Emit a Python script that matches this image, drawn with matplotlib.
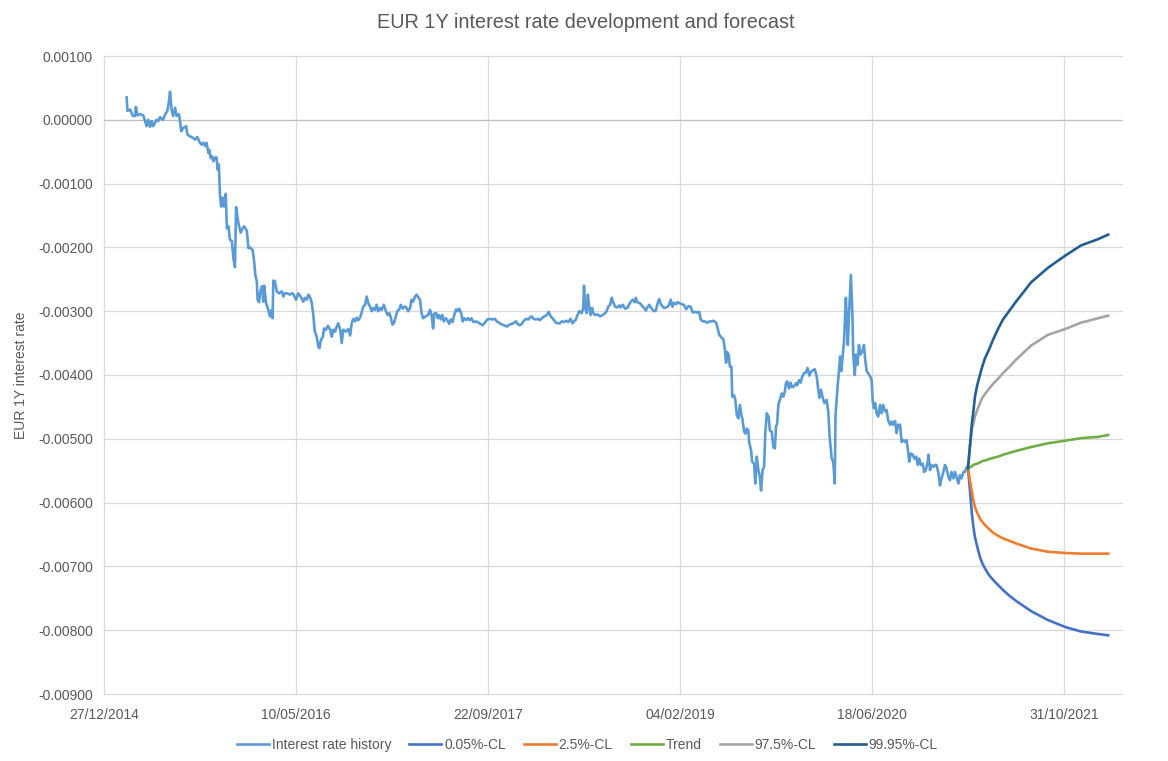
import matplotlib
matplotlib.use("Agg")
import matplotlib.pyplot as plt
import matplotlib.dates as mdates
from matplotlib.ticker import FuncFormatter
import pandas as pd

plt.rcParams['font.family'] = ['Liberation Sans', 'DejaVu Sans']
plt.rcParams['axes.unicode_minus'] = False

# history: days after 27/12/2014, rate in units of 0.001
hist_day = [59, 61, 68, 75, 81, 83, 87, 94, 102, 107, 111, 115, 120, 124, 128, 137, 141, 146, 153, 159,
            165, 168, 172, 176, 180, 185, 189, 195, 198, 201, 206, 214, 217, 224, 231, 237, 243, 248, 254, 259,
            263, 267, 272, 274, 278, 281, 285, 289, 293, 296, 299, 302, 305, 309, 312, 317, 320, 324, 328, 333,
            337, 341, 344, 350, 356, 361, 365, 372, 376, 380, 387, 391, 394, 398, 400, 404, 406, 411, 415, 417,
            422, 428, 432, 437, 439, 441, 445, 450, 456, 463, 467, 471, 477, 484, 489, 493, 500, 506, 512, 519,
            523, 528, 532, 536, 541, 545, 549, 554, 558, 561, 565, 570, 573, 578, 583, 589, 593, 597, 602, 606,
            610, 615, 619, 623, 630, 636, 641, 645, 649, 654, 658, 662, 667, 671, 675, 680, 684, 688, 693, 697,
            701, 706, 710, 714, 719, 723, 729, 734, 739, 743, 747, 751, 755, 760, 764, 769, 773, 778, 782, 786,
            792, 797, 801, 805, 810, 814, 818, 823, 827, 831, 838, 844, 849, 853, 857, 860, 865, 869, 873, 877,
            881, 885, 890, 894, 899, 903, 908, 912, 917, 921, 925, 930, 934, 938, 944, 948, 953, 957, 962, 969,
            975, 981, 986, 992, 998, 1005, 1012, 1018, 1023, 1029, 1036, 1042, 1049, 1056, 1062, 1068, 1073, 1077, 1083, 1088,
            1092, 1099, 1105, 1109, 1114, 1118, 1125, 1131, 1135, 1142, 1147, 1153, 1158, 1163, 1168, 1174, 1180, 1187, 1192, 1198,
            1203, 1209, 1215, 1220, 1224, 1228, 1233, 1238, 1244, 1248, 1250, 1253, 1257, 1260, 1264, 1267, 1271, 1274, 1279, 1285,
            1292, 1299, 1305, 1309, 1313, 1318, 1322, 1326, 1331, 1337, 1342, 1345, 1351, 1357, 1363, 1368, 1372, 1377, 1382, 1385,
            1389, 1394, 1398, 1403, 1407, 1411, 1416, 1420, 1424, 1429, 1433, 1437, 1442, 1446, 1450, 1455, 1459, 1463, 1468, 1472,
            1476, 1480, 1484, 1490, 1493, 1498, 1504, 1510, 1516, 1522, 1528, 1533, 1539, 1545, 1550, 1554, 1559, 1565, 1571, 1576,
            1582, 1587, 1594, 1597, 1602, 1609, 1613, 1617, 1620, 1623, 1627, 1630, 1634, 1636, 1641, 1644, 1648, 1652, 1656, 1660,
            1663, 1667, 1671, 1674, 1678, 1680, 1685, 1688, 1693, 1696, 1700, 1704, 1708, 1711, 1715, 1719, 1722, 1726, 1731, 1734,
            1739, 1743, 1747, 1750, 1753, 1756, 1760, 1765, 1769, 1773, 1776, 1779, 1784, 1788, 1792, 1797, 1802, 1805, 1810, 1814,
            1818, 1823, 1828, 1832, 1837, 1841, 1845, 1851, 1856, 1860, 1863, 1867, 1871, 1876, 1882, 1886, 1890, 1895, 1899, 1903,
            1905, 1910, 1913, 1917, 1920, 1924, 1927, 1932, 1934, 1937, 1940, 1945, 1949, 1951, 1955, 1958, 1962, 1966, 1970, 1976,
            1979, 1982, 1986, 1990, 1995, 1999, 2002, 2005, 2008, 2012, 2016, 2021, 2025, 2029, 2034, 2038, 2042, 2047, 2051, 2055,
            2060, 2064, 2068, 2073, 2077, 2081, 2086, 2090, 2094, 2097, 2101, 2106, 2110, 2115, 2119, 2123, 2127, 2132, 2136, 2140,
            2145, 2147, 2151, 2155, 2160, 2164, 2168, 2173, 2177, 2181, 2186, 2190, 2194, 2199, 2203, 2207, 2212, 2216, 2220, 2225,
            2229, 2233, 2238, 2242, 2247, 2250]
hist_rate = [0.35, 0.14, 0.16, 0.06, 0.06, 0.20, 0.07, 0.09, 0.07, -0.02, -0.10, 0.00, -0.11, -0.02, -0.10, 0.00, -0.02, 0.04, 0.00, 0.08,
             0.14, 0.24, 0.44, 0.16, 0.06, 0.19, 0.06, 0.09, -0.02, -0.18, -0.13, -0.10, -0.23, -0.26, -0.28, -0.31, -0.27, -0.34, -0.39, -0.36,
             -0.41, -0.36, -0.52, -0.47, -0.60, -0.57, -0.65, -0.59, -0.59, -0.78, -0.70, -1.17, -1.36, -1.22, -1.36, -1.16, -1.70, -1.67, -1.88, -1.90,
             -2.17, -2.31, -1.37, -1.62, -1.77, -1.70, -1.67, -1.74, -2.01, -2.00, -2.04, -2.22, -2.43, -2.53, -2.82, -2.86, -2.72, -2.61, -2.85, -2.60,
             -2.87, -2.98, -3.08, -2.98, -3.11, -2.52, -2.53, -2.69, -2.72, -2.69, -2.77, -2.72, -2.72, -2.74, -2.72, -2.73, -2.82, -2.72, -2.77, -2.85,
             -2.79, -2.82, -2.74, -2.77, -2.87, -3.06, -3.32, -3.40, -3.55, -3.58, -3.45, -3.40, -3.27, -3.29, -3.23, -3.29, -3.40, -3.29, -3.32, -3.24,
             -3.19, -3.29, -3.50, -3.29, -3.32, -3.28, -3.38, -3.19, -3.12, -3.16, -3.10, -3.14, -3.10, -3.02, -2.93, -2.90, -2.77, -2.87, -2.93, -3.00,
             -2.95, -2.98, -2.90, -3.00, -2.95, -2.98, -2.90, -3.00, -3.06, -3.03, -3.10, -3.21, -3.19, -3.08, -3.00, -2.97, -2.90, -2.96, -2.93, -2.93,
             -3.00, -2.95, -2.82, -2.85, -2.77, -2.74, -2.78, -2.82, -3.03, -3.11, -3.08, -3.06, -2.98, -3.06, -3.27, -3.04, -3.03, -3.11, -3.06, -3.13,
             -3.06, -3.16, -3.11, -3.14, -3.20, -3.13, -3.17, -3.06, -2.97, -3.00, -2.96, -3.03, -3.16, -3.11, -3.14, -3.11, -3.14, -3.11, -3.17, -3.16,
             -3.18, -3.20, -3.22, -3.18, -3.13, -3.12, -3.13, -3.12, -3.16, -3.18, -3.21, -3.22, -3.24, -3.21, -3.20, -3.18, -3.16, -3.20, -3.22, -3.20,
             -3.16, -3.12, -3.13, -3.10, -3.08, -3.12, -3.13, -3.12, -3.14, -3.10, -3.08, -3.06, -3.01, -3.08, -3.11, -3.16, -3.19, -3.19, -3.16, -3.17,
             -3.15, -3.17, -3.12, -3.19, -3.16, -3.14, -3.06, -3.00, -3.03, -2.95, -2.60, -2.95, -3.03, -2.74, -2.95, -3.06, -2.95, -3.03, -3.06, -3.05,
             -3.08, -3.06, -3.03, -3.00, -2.93, -2.90, -2.79, -2.86, -2.93, -2.94, -2.91, -2.94, -2.90, -2.96, -2.95, -2.89, -2.85, -2.82, -2.86, -2.79,
             -2.86, -2.87, -2.89, -2.93, -2.95, -2.99, -2.93, -2.90, -2.94, -2.98, -3.00, -2.99, -2.87, -2.81, -2.89, -2.93, -2.95, -2.94, -2.93, -2.89,
             -2.82, -2.93, -2.87, -2.89, -2.86, -2.87, -2.89, -2.90, -2.97, -2.92, -2.93, -3.02, -3.01, -3.02, -3.01, -3.13, -3.16, -3.16, -3.18, -3.16,
             -3.16, -3.15, -3.18, -3.24, -3.37, -3.42, -3.44, -3.61, -3.81, -3.64, -3.69, -3.87, -3.87, -4.34, -4.32, -4.39, -4.63, -4.68, -4.47, -4.63,
             -4.71, -4.89, -4.92, -4.84, -4.87, -5.05, -5.18, -5.36, -5.39, -5.70, -5.28, -5.49, -5.60, -5.81, -5.49, -5.44, -4.92, -4.60, -4.66, -4.87,
             -4.89, -5.13, -5.15, -4.81, -4.76, -4.47, -4.39, -4.29, -4.34, -4.26, -4.13, -4.10, -4.21, -4.12, -4.19, -4.18, -4.13, -4.16, -4.08, -4.12,
             -4.03, -3.97, -3.96, -3.89, -4.01, -3.95, -3.93, -3.91, -4.02, -4.23, -4.36, -4.23, -4.34, -4.44, -4.39, -4.57, -4.99, -5.31, -5.36, -5.70,
             -4.63, -4.21, -4.00, -3.71, -3.94, -3.68, -3.48, -2.79, -3.11, -3.53, -3.06, -2.43, -3.06, -3.66, -4.00, -3.68, -3.84, -3.53, -3.68, -3.61,
             -3.53, -3.74, -3.94, -3.97, -4.02, -4.08, -4.42, -4.52, -4.44, -4.60, -4.65, -4.47, -4.60, -4.47, -4.57, -4.55, -4.71, -4.78, -4.73, -4.78,
             -4.72, -4.91, -4.78, -4.78, -5.05, -5.02, -5.05, -5.02, -5.20, -5.36, -5.23, -5.25, -5.31, -5.28, -5.41, -5.31, -5.41, -5.39, -5.52, -5.49,
             -5.36, -5.25, -5.49, -5.41, -5.44, -5.41, -5.41, -5.54, -5.73, -5.62, -5.52, -5.41, -5.46, -5.60, -5.65, -5.52, -5.62, -5.52, -5.60, -5.70,
             -5.57, -5.62, -5.52, -5.52, -5.44, -5.46]

# forecast: days after forecast start, rate in units of 0.001
fc_start = '2021-02-23'
fc_day = [0, 5, 10, 14, 18, 24, 31, 37, 44, 54, 65, 78, 91, 108, 125, 164, 208, 253, 294, 339, 365]
cl_0005 = [-5.46, -5.80, -6.17, -6.38, -6.54, -6.69, -6.85, -6.95, -7.03, -7.13, -7.21, -7.29, -7.37, -7.46,
           -7.54, -7.70, -7.84, -7.95, -8.02, -8.06, -8.08]
cl_025 = [-5.46, -5.65, -5.83, -5.96, -6.07, -6.16, -6.25, -6.30, -6.35, -6.41, -6.47, -6.52, -6.56, -6.60,
          -6.64, -6.72, -6.77, -6.79, -6.80, -6.80, -6.80]
trend = [-5.46, -5.45, -5.43, -5.41, -5.40, -5.39, -5.37, -5.35, -5.34, -5.32, -5.30, -5.28, -5.25, -5.22,
         -5.19, -5.13, -5.07, -5.03, -4.99, -4.97, -4.94]
cl_975 = [-5.46, -5.12, -4.85, -4.76, -4.65, -4.55, -4.44, -4.36, -4.30, -4.22, -4.14, -4.06, -3.97, -3.87,
          -3.76, -3.54, -3.37, -3.28, -3.18, -3.11, -3.07]
cl_9995 = [-5.46, -5.12, -4.76, -4.57, -4.34, -4.16, -4.00, -3.87, -3.74, -3.61, -3.45, -3.28, -3.13, -2.99,
           -2.85, -2.55, -2.32, -2.13, -1.97, -1.87, -1.80]

scale = 1e-3
start = pd.Timestamp('2014-12-27')
hist_x = start + pd.to_timedelta(hist_day, unit='D')
fc_x = pd.Timestamp(fc_start) + pd.to_timedelta(fc_day, unit='D')

txt = '#595959'
fig = plt.figure(figsize=(11.68, 7.61), dpi=100)
ax = fig.add_axes([104 / 1168, 1 - 694 / 761, (1122 - 104) / 1168, (694 - 56) / 761])

lw = 1.9
ax.plot(hist_x, [v * scale for v in hist_rate], color='#5B9BD5', lw=lw, label='Interest rate history')
ax.plot(fc_x, [v * scale for v in cl_0005], color='#4472C4', lw=lw, label='0.05%-CL')
ax.plot(fc_x, [v * scale for v in cl_025], color='#ED7D31', lw=lw, label='2.5%-CL')
ax.plot(fc_x, [v * scale for v in trend], color='#70AD47', lw=lw, label='Trend')
ax.plot(fc_x, [v * scale for v in cl_975], color='#A5A5A5', lw=lw, label='97.5%-CL')
ax.plot(fc_x, [v * scale for v in cl_9995], color='#255E91', lw=lw, label='99.95%-CL')

ax.set_ylim(-0.009, 0.001)
ax.set_yticks([k * 0.001 for k in range(-9, 2)])
ax.yaxis.set_major_formatter(FuncFormatter(lambda v, p: f'{round(v, 5) + 0.0:.5f}'))
ax.set_xlim(start, start + pd.Timedelta(days=2651))
ax.set_xticks(pd.date_range(start, periods=6, freq='500D'))
ax.xaxis.set_major_formatter(mdates.DateFormatter('%d/%m/%Y'))

ax.grid(True, color='#D9D9D9', lw=0.9)
ax.set_axisbelow(True)
for gl in ax.get_ygridlines() + ax.get_xgridlines():
    gl.set_clip_on(False)
ax.axhline(0, color='#BFBFBF', lw=0.9, zorder=1)
for s in ax.spines.values():
    s.set_visible(False)
ax.tick_params(length=0, labelsize=10, labelcolor=txt)
ax.tick_params(axis='x', pad=10)
ax.tick_params(axis='y', pad=8)

fig.text(0.5015, 1 - 22 / 761, 'EUR 1Y interest rate development and forecast',
         ha='center', va='center', fontsize=14.3, color=txt)
fig.text(21 / 1168, 1 - 375 / 761, 'EUR 1Y interest rate', rotation=90,
         ha='center', va='center', fontsize=10, color=txt)

leg = fig.legend(loc='center', bbox_to_anchor=(0.503, 1 - 745 / 761), ncol=6, frameon=False,
                 fontsize=10, handlelength=2.3, handletextpad=0.2, columnspacing=1.3)
for t in leg.get_texts():
    t.set_color(txt)

fig.savefig('out.png', dpi=100)
